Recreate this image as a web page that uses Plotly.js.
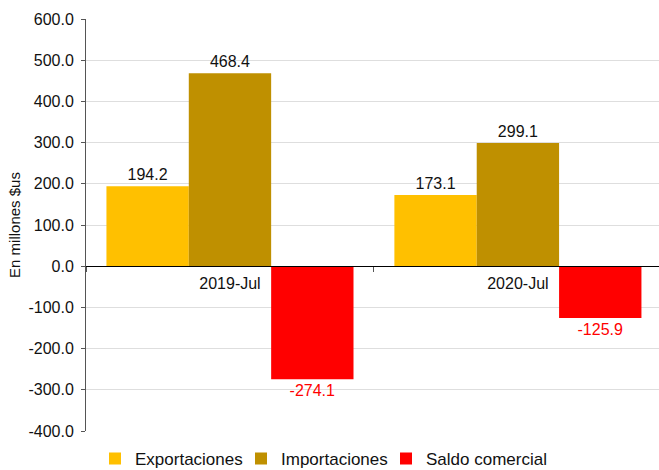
<!DOCTYPE html>
<html>
<head>
<meta charset="utf-8">
<script src="https://cdn.plot.ly/plotly-3.0.1.min.js"></script>
<style>html,body{margin:0;padding:0;background:#fff;}#chart{width:659px;height:470px;}</style>
</head>
<body>
<div id="chart"></div>
<script>
const categories = ["2019-Jul", "2020-Jul"];
const exportaciones = [194.2, 173.1];
const importaciones = [468.4, 299.1];
const saldo = [-274.1, -125.9];
const seriesNames = ["Exportaciones", "Importaciones", "Saldo comercial"];
const yTicks = [-400, -300, -200, -100, 0, 100, 200, 300, 400, 500, 600];
const yTickText = yTicks.map(v => v.toFixed(1));

const FAM = "Liberation Sans, Arial, sans-serif";

function bar(name, y, color, textColor, legendId) {
  return {
    type: "bar", name: name, x: categories, y: y,
    marker: {color: color},
    text: y.map(v => v.toFixed(1)),
    textposition: "outside",
    textfont: {family: FAM, size: 16, color: textColor},
    cliponaxis: false,
    legend: legendId,
    hoverinfo: "skip"
  };
}

const data = [
  bar(seriesNames[0], exportaciones, "#FFC000", "#111", "legend"),
  bar(seriesNames[1], importaciones, "#BF9000", "#111", "legend2"),
  bar(seriesNames[2], saldo, "#FF0000", "#FF0000", "legend3")
];

function leg(xpx) {
  return {orientation: "h", xref: "container", yref: "container",
          x: xpx / 659, xanchor: "left", y: 0.062, yanchor: "top",
          bgcolor: "rgba(0,0,0,0)",
          font: {family: FAM, size: 17, color: "#111"}};
}

const layout = {
  width: 659, height: 470,
  margin: {l: 86, r: 0, t: 19, b: 39},
  paper_bgcolor: "#fff", plot_bgcolor: "#fff",
  font: {family: FAM, size: 15, color: "#111"},
  barmode: "group",
  bargap: 0.142,
  bargroupgap: 0,
  showlegend: true,
  legend: leg(95),
  legend2: leg(241),
  legend3: leg(386),
  xaxis: {
    type: "category", range: [-0.5, 1.49],
    anchor: "free", position: 0.4005,
    showline: true, linecolor: "#000", linewidth: 1,
    ticks: "outside", tickson: "boundaries", ticklen: 5, tickcolor: "#555",
    showgrid: false, zeroline: false, ticklabelstandoff: 3,
    tickfont: {family: FAM, size: 16, color: "#111"}
  },
  yaxis: {
    range: [-400, 600], tickvals: yTicks, ticktext: yTickText,
    showline: true, linecolor: "#555", linewidth: 1,
    ticks: "outside", ticklen: 4, tickcolor: "#555",
    showgrid: true, gridcolor: "#dedede", gridwidth: 1,
    zeroline: true, zerolinecolor: "#000", zerolinewidth: 1,
    ticklabelstandoff: 4,
    tickfont: {family: FAM, size: 16, color: "#111"},
    title: {text: "En millones $us", font: {family: FAM, size: 15, color: "#111"}, standoff: 4}
  },
  hovermode: false
};

Plotly.newPlot("chart", data, layout, {displayModeBar: false, staticPlot: true});
</script>
</body>
</html>
